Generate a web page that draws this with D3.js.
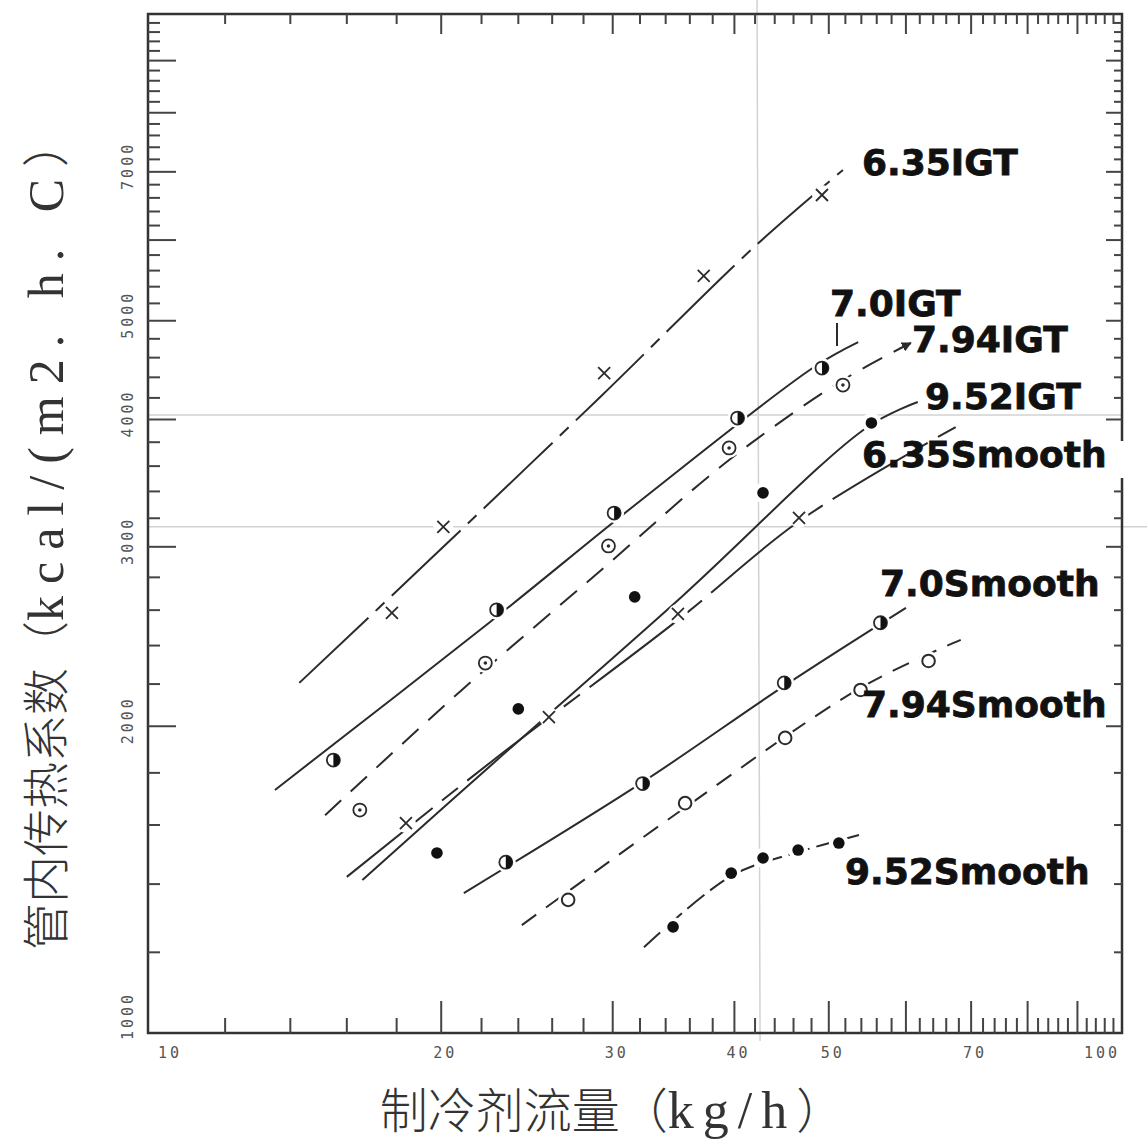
<!DOCTYPE html>
<html><head><meta charset="utf-8">
<script src="https://cdn.jsdelivr.net/npm/d3@7"></script>
<style>html,body{margin:0;padding:0;background:#fff;} svg{display:block;}</style>
</head><body>
<svg id="chart" width="1147" height="1144"></svg>
<script>
// ---------- data ----------
const xTickLabels = [10, 20, 30, 40, 50, 70, 100];
const yTickLabels = [1000, 2000, 3000, 4000, 5000, 7000];

const igt635X = [17.8, 20.1, 29.4, 37.2, 49.2];
const igt635Y = [2584, 3138, 4443, 5533, 6643];
const igt635FitX = [14.3, 19.4, 29.2, 41.8, 51.7];
const igt635FitY = [2206, 2905, 4219, 5893, 7029];

const igt70X = [15.5, 22.8, 30.1, 40.3, 49.2];
const igt70Y = [1853, 2602, 3238, 4013, 4493];
const igt70FitX = [13.5, 22.4, 32.1, 48.3, 53.6];
const igt70FitY = [1732, 2527, 3335, 4504, 4764];

const igt794X = [16.5, 22.2, 29.7, 39.5, 51.7];
const igt794Y = [1655, 2307, 3006, 3751, 4324];
const igt794FitX = [15.2, 21.0, 29.2, 39.5, 51.7, 60.7];
const igt794FitY = [1636, 2171, 2847, 3650, 4373, 4755];

const igt952X = [19.8, 24.0, 31.6, 42.8, 55.3];
const igt952Y = [1502, 2080, 2679, 3389, 3969];
const igt952FitX = [16.6, 22.7, 35.3, 54.8, 61.7];
const igt952FitY = [1413, 1845, 2679, 3933, 4161];

const sm635X = [18.4, 25.8, 35.0, 46.6];
const sm635Y = [1607, 2042, 2578, 3202];
const sm635FitX = [16.0, 22.5, 35.0, 46.8, 67.5];
const sm635FitY = [1423, 1845, 2543, 3187, 3933];

const sm70X = [23.3, 32.2, 45.0, 56.5];
const sm70Y = [1471, 1757, 2206, 2527];
const sm70FitX = [21.1, 32.2, 45.0, 60.0];
const sm70FitY = [1372, 1763, 2191, 2613];

const sm794X = [27.0, 35.6, 45.1, 53.9, 63.3];
const sm794Y = [1351, 1681, 1948, 2171, 2318];
const sm794FitX = [24.2, 35.3, 53.9, 68.3];
const sm794FitY = [1276, 1655, 2181, 2431];

const sm952X = [34.6, 39.7, 42.8, 46.5, 51.2];
const sm952Y = [1271, 1435, 1485, 1512, 1536];
const sm952FitX = [32.3, 39.7, 46.5, 53.7];
const sm952FitY = [1214, 1426, 1505, 1564];

const seriesNames = ["6.35IGT", "7.0IGT", "7.94IGT", "9.52IGT", "6.35Smooth", "7.0Smooth", "7.94Smooth", "9.52Smooth"];

// faint scan lines seen on the original
const foldY = [4040, 3140];
const foldX = [42.2];

// ---------- build ----------
const zip = (a, b) => a.map((v, i) => [v, b[i]]);
const series = [
  {name: seriesNames[0], pts: zip(igt635X, igt635Y), fit: zip(igt635FitX, igt635FitY), marker: "cross", dash: "95,10,12,10", lx: 862, ly: 175},
  {name: seriesNames[1], pts: zip(igt70X, igt70Y), fit: zip(igt70FitX, igt70FitY), marker: "half", dash: null, lx: 830, ly: 316},
  {name: seriesNames[2], pts: zip(igt794X, igt794Y), fit: zip(igt794FitX, igt794FitY), marker: "dot", dash: "22,13", lx: 912, ly: 352},
  {name: seriesNames[3], pts: zip(igt952X, igt952Y), fit: zip(igt952FitX, igt952FitY), marker: "filled", dash: null, lx: 925, ly: 409},
  {name: seriesNames[4], pts: zip(sm635X, sm635Y), fit: zip(sm635FitX, sm635FitY), marker: "cross", dash: "110,12,20,12", lx: 862, ly: 467},
  {name: seriesNames[5], pts: zip(sm70X, sm70Y), fit: zip(sm70FitX, sm70FitY), marker: "half", dash: null, lx: 880, ly: 596},
  {name: seriesNames[6], pts: zip(sm794X, sm794Y), fit: zip(sm794FitX, sm794FitY), marker: "open", dash: "18,12", lx: 862, ly: 717},
  {name: seriesNames[7], pts: zip(sm952X, sm952Y), fit: zip(sm952FitX, sm952FitY), marker: "filled", dash: "22,7", lx: 845, ly: 884}
];

const L = 148, R = 1122, T = 14, B = 1033;
const x = d3.scaleLog().domain([10, 100]).range([L, R]);
const y = d3.scaleLog().domain([1000, 10000]).range([B, T]);

const svg = d3.select("#chart");
svg.append("rect").attr("width", 1147).attr("height", 1144).attr("fill", "#fff");

const ink = "#2b2b2b";

// fold lines
svg.append("g").selectAll("line.fy").data(foldY).join("line")
  .attr("x1", L).attr("x2", (d, i) => i === 1 ? 1147 : R)
  .attr("y1", d => y(d)).attr("y2", d => y(d))
  .attr("stroke", "#d2d2d2").attr("stroke-width", 1.5);
svg.append("g").selectAll("line.fx").data(foldX).join("line")
  .attr("x1", d => x(d)).attr("x2", d => x(d) + 3)
  .attr("y1", 0).attr("y2", B + 8)
  .attr("stroke", "#d2d2d2").attr("stroke-width", 1.5);

// frame
svg.append("rect").attr("x", L).attr("y", T).attr("width", R - L).attr("height", B - T)
  .attr("fill", "none").attr("stroke", "#333").attr("stroke-width", 2.5);

// ticks
const xT = d3.range(12, 100, 2);
const yT = d3.range(1200, 10000, 200);
const tg = svg.append("g").attr("stroke", "#444").attr("stroke-width", 2);
tg.selectAll("line.bx").data(xT).join("line")
  .attr("x1", d => x(d)).attr("x2", d => x(d))
  .attr("y1", B).attr("y2", d => B - (d % 10 === 0 ? 32 : 15));
tg.selectAll("line.tx").data(xT).join("line")
  .attr("x1", d => x(d)).attr("x2", d => x(d))
  .attr("y1", T).attr("y2", d => T + (d % 10 === 0 ? 20 : 10));
tg.selectAll("line.ly").data(yT).join("line")
  .attr("y1", d => y(d)).attr("y2", d => y(d))
  .attr("x1", L).attr("x2", d => L + (d % 1000 === 0 ? 28 : 12));
tg.selectAll("line.ry").data(yT).join("line")
  .attr("y1", d => y(d)).attr("y2", d => y(d))
  .attr("x1", R).attr("x2", d => R - (d % 1000 === 0 ? 16 : 8));

// tick labels
svg.append("g").selectAll("text").data(xTickLabels).join("text")
  .attr("x", d => d === 10 ? x(d) + 10 : d === 100 ? x(d) - 2 : x(d) + 4)
  .attr("y", 1058)
  .attr("text-anchor", d => d === 10 ? "start" : d === 100 ? "end" : "middle")
  .attr("font-family", "DejaVu Sans Mono").attr("font-size", 15)
  .attr("letter-spacing", 3).attr("fill", "#555").text(d => d);
svg.append("g").selectAll("text").data(yTickLabels).join("text")
  .attr("transform", d => `translate(133,${Math.min(y(d) - 6, 1016)}) rotate(-90)`)
  .attr("text-anchor", "middle")
  .attr("font-family", "DejaVu Sans Mono").attr("font-size", 15)
  .attr("letter-spacing", 3).attr("fill", "#555").text(d => d);

// series
const line = d3.line().x(d => x(d[0])).y(d => y(d[1])).curve(d3.curveCatmullRom.alpha(0.5));

const defs = svg.append("defs");
defs.append("marker").attr("id", "arr").attr("viewBox", "0 0 10 10")
  .attr("refX", 9).attr("refY", 5).attr("markerWidth", 5).attr("markerHeight", 5)
  .attr("orient", "auto").append("path").attr("d", "M0,0L10,5L0,10Z").attr("fill", ink);

function drawMarker(g, type) {
  if (type === "cross") {
    g.append("path").attr("d", "M-6,-6L6,6M-6,6L6,-6").attr("stroke", ink).attr("stroke-width", 1.8).attr("fill", "none");
  } else if (type === "half") {
    g.append("circle").attr("r", 6.5).attr("fill", "#fff").attr("stroke", ink).attr("stroke-width", 1.8);
    g.append("path").attr("d", "M0,-6.5A6.5,6.5 0 0,1 0,6.5Z").attr("fill", "#111");
  } else if (type === "dot") {
    g.append("circle").attr("r", 6.5).attr("fill", "#fff").attr("stroke", ink).attr("stroke-width", 1.8);
    g.append("circle").attr("r", 1.8).attr("fill", ink);
  } else if (type === "filled") {
    g.append("circle").attr("r", 5.8).attr("fill", "#111");
  } else if (type === "open") {
    g.append("circle").attr("r", 6.3).attr("fill", "#fff").attr("stroke", ink).attr("stroke-width", 2);
  }
}

series.forEach(s => {
  const g = svg.append("g");
  const p = g.append("path").attr("d", line(s.fit)).attr("fill", "none")
    .attr("stroke", ink).attr("stroke-width", 2);
  if (s.dash) p.attr("stroke-dasharray", s.dash);
  if (s.name === "7.94IGT") p.attr("marker-end", "url(#arr)");
  g.selectAll("circle.halo").data(s.pts).join("circle")
    .attr("cx", d => x(d[0])).attr("cy", d => y(d[1])).attr("r", 10).attr("fill", "#fff");
  s.pts.forEach(d => {
    const mg = g.append("g").attr("transform", `translate(${x(d[0])},${y(d[1])})`);
    drawMarker(mg, s.marker);
  });
});

// leader tick for 7.0IGT
svg.append("line").attr("x1", 837).attr("x2", 837).attr("y1", 323).attr("y2", 346)
  .attr("stroke", ink).attr("stroke-width", 2);

// break of right border behind the 6.35Smooth label
svg.append("rect").attr("x", R - 20).attr("y", 441).attr("width", 40).attr("height", 37).attr("fill", "#fff");

// curve labels
svg.append("g").selectAll("text").data(series).join("text")
  .attr("x", d => d.lx).attr("y", d => d.ly)
  .attr("font-family", "DejaVu Sans").attr("font-weight", "bold").attr("font-size", 36)
  .attr("fill", "#111").attr("stroke", "#111").attr("stroke-width", 0.8).text(d => d.name);

// axis titles
const xt = svg.append("text").attr("x", 612).attr("y", 1128).attr("text-anchor", "middle")
  .attr("font-size", 48).attr("fill", "#333");
xt.append("tspan").attr("font-family", "Noto Sans CJK SC").attr("font-weight", 300).text("制冷剂流量（");
xt.append("tspan").attr("font-family", "Liberation Serif").attr("font-size", 52).attr("letter-spacing", 9).text("kg/h");
xt.append("tspan").attr("font-family", "Noto Sans CJK SC").attr("font-weight", 300).text("）");

const yt = svg.append("text").attr("transform", "translate(63,535) rotate(-90)").attr("text-anchor", "middle")
  .attr("font-size", 47).attr("fill", "#333");
yt.append("tspan").attr("font-family", "Noto Sans CJK SC").attr("font-weight", 300).text("管内传热系数（");
yt.append("tspan").attr("font-family", "Liberation Serif").attr("font-size", 50).attr("letter-spacing", 12).text("kcal/(m2. h. C");
yt.append("tspan").attr("font-family", "Noto Sans CJK SC").attr("font-weight", 300).text("）");
</script>
</body></html>
